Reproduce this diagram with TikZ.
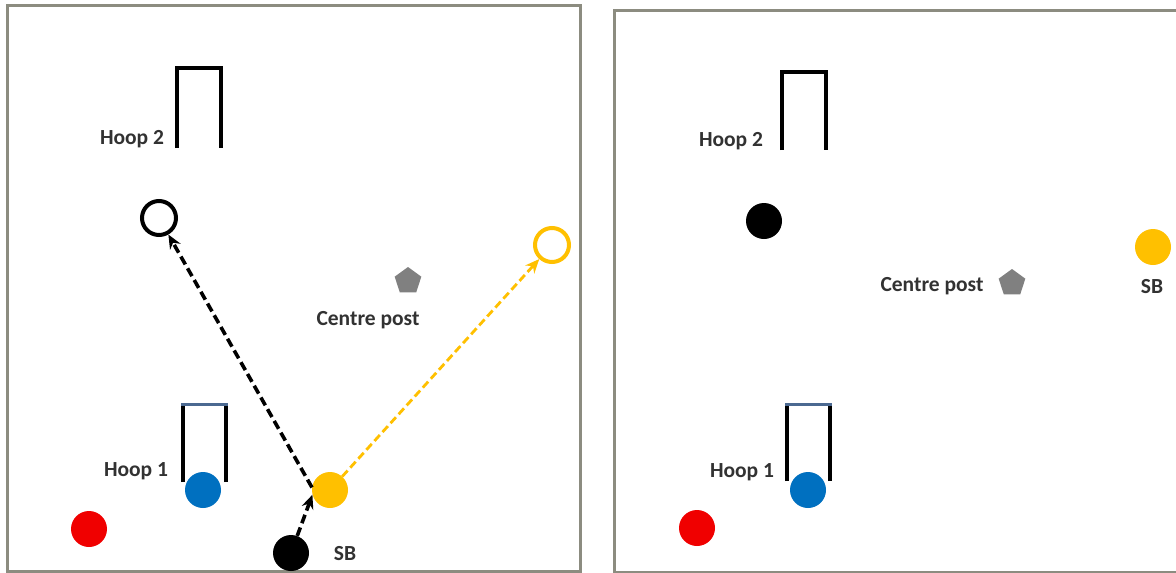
\documentclass[tikz,border=0pt]{standalone}
\usepackage{fontspec}
\setmainfont{Carlito}
\usetikzlibrary{shapes.geometric,arrows.meta}
\definecolor{ballyellow}{RGB}{255,192,0}
\definecolor{ballblue}{RGB}{0,112,192}
\definecolor{ballred}{RGB}{240,0,0}
\definecolor{framegray}{RGB}{140,140,128}
\definecolor{postgray}{RGB}{128,128,128}
\definecolor{hooptop}{RGB}{75,105,145}
\definecolor{txtgray}{RGB}{50,50,50}
\tikzset{
  ball/.style={circle, minimum size=36pt, inner sep=0pt, fill=#1},
  hollow/.style={circle, minimum size=34pt, inner sep=0pt, draw=#1, line width=4pt},
  post/.style={regular polygon, regular polygon sides=5, minimum size=28pt, inner sep=0pt, fill=postgray},
  lbl/.style={text=txtgray, font=\fontsize{21.5}{23}\selectfont\bfseries, inner sep=0pt},
  hoopline/.style={line width=4pt},
  frameline/.style={draw=framegray, line width=3pt},
  movearrow/.style={line width=3.6pt, dash pattern=on 9pt off 4.5pt, -{Stealth[length=14pt,width=12pt]}},
  yarrow/.style={draw=ballyellow, line width=2.8pt, dash pattern=on 8pt off 4pt, -{Stealth[length=14pt,width=12pt]}}
}
\begin{document}
\begin{tikzpicture}[x=1pt,y=-1pt]
\useasboundingbox (0,0) rectangle (1176,573);
\fill[white] (0,0) rectangle (1176,573);
% frames
\draw[frameline] (7,5) rectangle (580,571);
\draw[frameline] (1182,10) -- (614,10) -- (614,572) -- (1182,572);

% ---------- left panel ----------
\draw[hoopline] (177,148) -- (177,68) -- (221,68) -- (221,148);
\node[lbl] (lh2) at (132,139) {Hoop 2};
\draw[hoopline] (183,482) -- (183,404);
\draw[hoopline] (226,482) -- (226,404);
\draw[draw=hooptop, line width=3pt] (181,404) -- (228,404);
\node[lbl] (lh1) at (136,471) {Hoop 1};

\node[post] (lpost) at (408,281) {};
\node[lbl] (lcp) at (368,320) {Centre post};

\node[hollow=black] (lhc) at (159,218) {};
\node[hollow=ballyellow] (lyc) at (552,245) {};

\node[ball=ballblue] (lblue) at (203,490) {};
\node[ball=ballred] (lred) at (89,529) {};
\node[ball=ballyellow] (lyb) at (330,490) {};
\node[ball=black] (lbb) at (291,553) {};
\node[lbl] (lsb) at (345,554) {SB};

\draw[movearrow] (lbb.70) -- (lyb.195);
\draw[movearrow] (lyb.172) -- (lhc);
\draw[yarrow] (lyb) -- (lyc);

% ---------- right panel ----------
\draw[hoopline] (782,150) -- (782,72) -- (826,72) -- (826,150);
\node[lbl] (rh2) at (731,141) {Hoop 2};
\draw[hoopline] (787,481) -- (787,404);
\draw[hoopline] (830,481) -- (830,404);
\draw[draw=hooptop, line width=3pt] (785,404) -- (832,404);
\node[lbl] (rh1) at (742,472) {Hoop 1};

\node[post] (rpost) at (1012,283) {};
\node[lbl] (rcp) at (932,286) {Centre post};

\node[ball=black] (rbb) at (764,221) {};
\node[ball=ballyellow] (ryb) at (1153,247) {};
\node[lbl] (rsb) at (1152,287) {SB};
\node[ball=ballblue] (rblue) at (808,490) {};
\node[ball=ballred] (rred) at (697,528) {};
\end{tikzpicture}
\end{document}
